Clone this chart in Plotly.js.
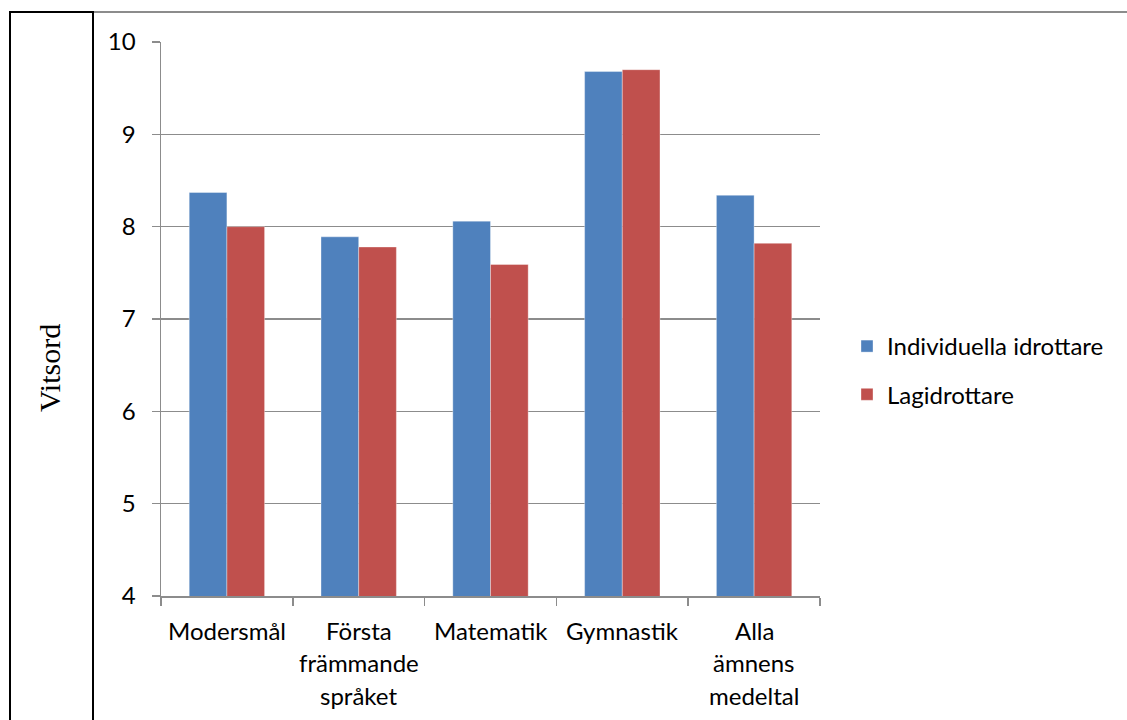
<!DOCTYPE html>
<html>
<head>
<meta charset="utf-8">
<script src="https://cdn.plot.ly/plotly-3.0.1.min.js"></script>
<style>
  html, body { margin: 0; padding: 0; background: #fff; }
  #wrap { position: relative; width: 1127px; height: 720px; overflow: hidden; }
  #chart { position: absolute; left: 0; top: 0; width: 1127px; height: 720px; }
  .frame { position: absolute; pointer-events: none; }
</style>
</head>
<body>
<div id="wrap">
  <div id="chart"></div>
  <div class="frame" style="left:9px; top:11px; width:81px; height:720px; border-left:2px solid #000; border-right:2px solid #000; border-top:2px solid #000;"></div>
  <div class="frame" style="left:94px; top:11px; width:1040px; height:0; border-top:2px solid #8c8c8c;"></div>
</div>
<script>
const categories = ["Modersmål", "Första främmande språket", "Matematik", "Gymnastik", "Alla ämnens medeltal"];
const categoryLabelLines = [["Modersmål"], ["Första", "främmande", "språket"], ["Matematik"], ["Gymnastik"], ["Alla", "ämnens", "medeltal"]];
const individuella = [8.37, 7.89, 8.06, 9.68, 8.34];
const lagidrottare = [8.00, 7.78, 7.59, 9.70, 7.82];
const seriesNames = ["Individuella idrottare", "Lagidrottare"];
const yTickVals = [4, 5, 6, 7, 8, 9, 10];
const yTitle = "Vitsord";

const FONT = "Lato, 'Noto Sans', sans-serif";
const GRID = "#8c8c8c";

const traces = [
  { type: "bar", name: seriesNames[0], x: categories, y: individuella,
    marker: { color: "#4F81BD", line: { color: "rgba(255,255,255,0.35)", width: 1 } },
    legendgroup: "a" },
  { type: "bar", name: seriesNames[1], x: categories, y: lagidrottare,
    marker: { color: "#C0504D", line: { color: "rgba(255,255,255,0.35)", width: 1 } },
    legendgroup: "b" }
];

const annotations = [];
categoryLabelLines.forEach((lines, ci) => {
  lines.forEach((line, li) => {
    annotations.push({
      xref: "x", yref: "paper", x: categories[ci], y: 0,
      xanchor: "center", yanchor: "middle",
      yshift: -(34 + li * 32.5),
      text: line, showarrow: false,
      font: { family: FONT, size: 24, color: "#000" }
    });
  });
});
annotations.push({
  xref: "paper", yref: "paper", x: (50 - 161) / 659, y: (596 - 368) / 554,
  xanchor: "center", yanchor: "middle", textangle: -90,
  text: yTitle, showarrow: false,
  font: { family: "'Liberation Serif', 'Times New Roman', serif", size: 30, color: "#000" }
});

const layout = {
  width: 1127, height: 720,
  margin: { l: 161, r: 307, t: 42, b: 124, pad: 0 },
  paper_bgcolor: "rgba(0,0,0,0)", plot_bgcolor: "rgba(0,0,0,0)",
  barmode: "group", bargap: 0.428, bargroupgap: 0,
  showlegend: true,
  legend: {
    x: (847 - 161) / 659, xanchor: "left",
    y: (596 - 324) / 554, yanchor: "top",
    font: { family: FONT, size: 24, color: "#000" },
    tracegroupgap: 14, bgcolor: "rgba(0,0,0,0)"
  },
  xaxis: {
    type: "category", tickson: "boundaries",
    ticks: "outside", ticklen: 8, tickwidth: 1.5, tickcolor: GRID,
    showline: true, linecolor: GRID, linewidth: 1.5,
    showgrid: false, showticklabels: false, zeroline: false,
    fixedrange: true
  },
  yaxis: {
    range: [4, 10], tickvals: yTickVals, ticktext: yTickVals.map(String),
    ticks: "outside", ticklen: 8, tickwidth: 1.5, tickcolor: GRID,
    showline: true, linecolor: GRID, linewidth: 1.5,
    showgrid: true, gridcolor: GRID, gridwidth: 1.5, zeroline: false,
    tickfont: { family: FONT, size: 24, color: "#000" },
    ticklabelstandoff: 11,
    fixedrange: true
  },
  annotations: annotations
};

Plotly.newPlot("chart", traces, layout, { displayModeBar: false, staticPlot: true });
</script>
</body>
</html>
